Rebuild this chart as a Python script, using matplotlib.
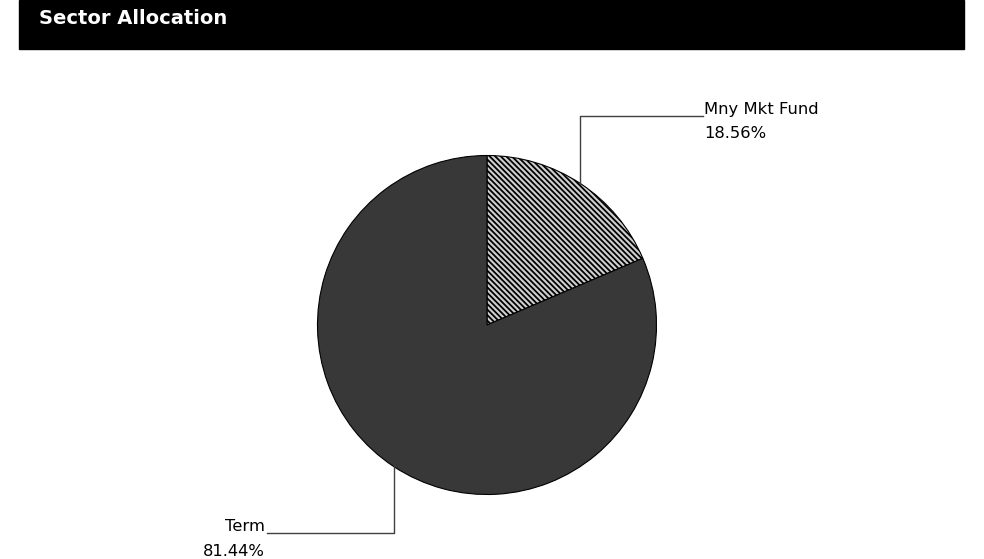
import numpy as np
import matplotlib
matplotlib.use("Agg")
import matplotlib.pyplot as plt
from matplotlib.patches import Rectangle

# data
labels = ["Mny Mkt Fund", "Term"]
values = [18.56, 81.44]
pct_text = ["18.56%", "81.44%"]
title = "Sector Allocation"

W, H = 984, 559
plt.rcParams['font.family'] = ['DejaVu Sans']
plt.rcParams['hatch.linewidth'] = 1.3
plt.rcParams['hatch.color'] = 'black'

fig = plt.figure(figsize=(W / 100, H / 100), dpi=100)
ax = fig.add_axes([0, 0, 1, 1])

cx, cy, r = 487, H - 325, 169.5
wedges, _ = ax.pie(values, startangle=90, counterclock=False, radius=r,
                   center=(cx, cy), colors=['#d0d0d0', '#383838'],
                   wedgeprops=dict(edgecolor='black', linewidth=0.8))
wedges[0].set_hatch('\\' * 6)

ax.set_xlim(0, W)
ax.set_ylim(0, H)
ax.set_aspect('equal')
ax.axis('off')

# header bar
ax.add_patch(Rectangle((19, H - 49), 945, 49, color='black', zorder=5))
ax.text(39, H - 18, title, color='white', fontsize=14, fontweight='bold',
        va='center', ha='left', zorder=6)

# leader lines + labels
for i, w in enumerate(wedges):
    mid = np.deg2rad((w.theta1 + w.theta2) / 2)
    x0, y0 = cx + r * np.cos(mid), cy + r * np.sin(mid)
    if x0 > cx:
        y1 = cy + 209
        x1 = x0 + 123
        ax.plot([x0, x0, x1], [y0, y1, y1], color='#404040', lw=1)
        ax.text(x1 + 1, y1 + 2, labels[i], fontsize=11.8, ha='left', va='baseline')
        ax.text(x1 + 1, y1 - 22, pct_text[i], fontsize=11.8, ha='left', va='baseline')
    else:
        y1 = cy - 208
        x1 = x0 - 127
        ax.plot([x0, x0, x1], [y0, y1, y1], color='#404040', lw=1)
        ax.text(x1 - 2, y1 + 2, labels[i], fontsize=11.8, ha='right', va='baseline')
        ax.text(x1 - 2, y1 - 23, pct_text[i], fontsize=11.8, ha='right', va='baseline')

fig.savefig("out.png", dpi=100)
